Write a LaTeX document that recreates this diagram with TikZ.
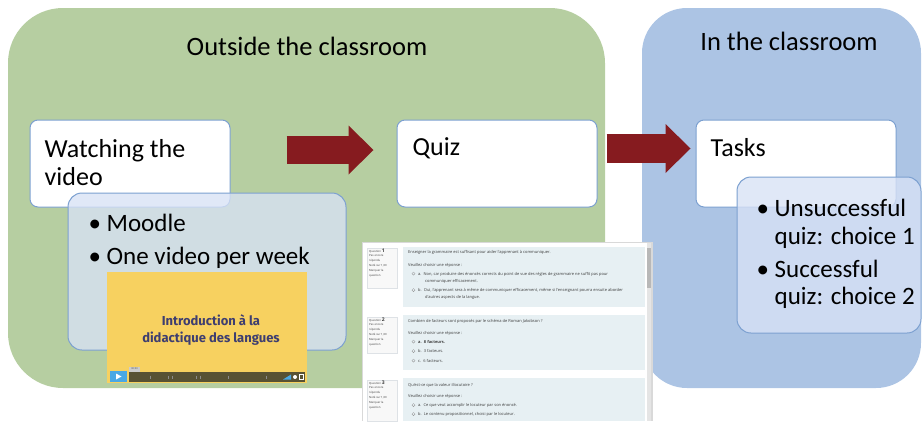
\documentclass[tikz,border=0pt]{standalone}
\usepackage{fontspec}
\setmainfont{Carlito}
\newfontfamily\thumbfont{Fira Sans}
\newfontfamily\moodlefont{Open Sans}
\usetikzlibrary{arrows.meta,positioning}

\definecolor{greenbg}{RGB}{182,206,161}
\definecolor{bluebg}{RGB}{172,196,228}
\definecolor{boxline}{RGB}{124,160,208}
\definecolor{notefill}{RGB}{216,226,246}
\definecolor{arrowred}{RGB}{134,27,31}
\definecolor{thumbyellow}{RGB}{247,209,96}
\definecolor{thumbtext}{RGB}{62,62,112}
\definecolor{playblue}{RGB}{74,168,228}
\definecolor{barfill}{RGB}{88,82,52}
\definecolor{quizbg}{RGB}{231,240,243}
\definecolor{infofill}{RGB}{248,248,248}
\definecolor{infoline}{RGB}{222,226,230}
\definecolor{moodletext}{RGB}{60,60,60}

\newcommand{\bul}{\makebox[18pt][l]{\textbullet}}

\tikzset{
  panel/.style={inner sep=0pt, outer sep=0pt},
  stepbox/.style={draw=boxline, fill=white, line width=1pt, rounded corners=8pt,
    inner sep=0pt, minimum width=200pt, minimum height=87pt},
  notebox/.style={draw=boxline, fill=notefill, fill opacity=0.78, line width=1pt,
    rounded corners=14pt, inner sep=0pt},
  titletext/.style={font=\fontsize{26.5}{29}\selectfont, anchor=base, inner sep=0pt},
  bigtext/.style={font=\fontsize{26}{28.5}\selectfont, anchor=base west, inner sep=0pt},
  bullettext/.style={font=\fontsize{25}{27.5}\selectfont, anchor=base west, inner sep=0pt},
  bigarrow/.style={draw=arrowred, line width=28.5pt,
    -{Triangle[length=25pt,width=49pt,line width=0pt]}},
  qtext/.style={font=\moodlefont\fontsize{4}{5}\selectfont, text=moodletext,
    anchor=base west, inner sep=0pt},
  infotext/.style={font=\moodlefont\fontsize{2.8}{4.4}\selectfont, text=moodletext,
    anchor=base west, inner sep=0pt},
  radio/.style={draw=black!45, line width=0.3pt}
}

\begin{document}
\begin{tikzpicture}[x=1pt,y=-1pt]
\useasboundingbox (0,0) rectangle (924,421);

% the two places
\node[panel, fill=greenbg, rounded corners=55pt, minimum width=597pt, minimum height=380pt] (outside) at (306.5,198) {};
\node[panel, fill=bluebg, rounded corners=45pt, minimum width=279pt, minimum height=380pt] (inside) at (781.5,198) {};
\node[titletext] at ([xshift=0.5pt,yshift=-47pt]outside.north) {Outside the classroom};
\node[titletext] at ([xshift=7.5pt,yshift=-42pt]inside.north) {In the classroom};

% steps
\node[stepbox] (watch) at (130,163.5) {};
\node[stepbox, right=166pt of watch] (quiz) {};
\node[stepbox, right=98pt of quiz] (tasks) {};

\draw[bigarrow, shorten <=56pt, shorten >=23pt] ([yshift=13.5pt]watch.east) -- ([yshift=13.5pt]quiz.west);
\draw[bigarrow, shorten <=9pt, shorten >=5pt] ([yshift=15pt]quiz.east) -- ([yshift=15pt]tasks.west);

\node[bigtext] at ([xshift=15pt,yshift=-37.5pt]watch.north west)
  {\begin{tabular}[t]{@{}l@{}}Watching the\\video\end{tabular}};
\node[bigtext] at ([xshift=16pt,yshift=-36pt]quiz.north west) {Quiz};
\node[bigtext] at ([xshift=15pt,yshift=-37pt]tasks.north west) {Tasks};

% notes
\node[notebox, minimum width=278pt, minimum height=157pt] (moodle) at (207,271.5) {};
\node[notebox, minimum width=184pt, minimum height=156pt] (choices) at (829,255) {};

\node[bullettext] at ([xshift=21pt,yshift=-39pt]moodle.north west)
  {\begin{tabular}[t]{@{}l@{}}\bul Moodle\\[5.5pt]\bul One video per week\end{tabular}};
\node[bullettext] at ([xshift=20pt,yshift=-40pt]choices.north west)
  {\begin{tabular}[t]{@{}l@{}}\bul Unsuccessful\\\hspace{18pt}quiz: choice 1\\[5.5pt]
   \bul Successful\\\hspace{18pt}quiz: choice 2\end{tabular}};

% video thumbnail
\node[panel, fill=thumbyellow, minimum width=200pt, minimum height=111pt] (thumb) at (207,327.5) {};
\node[anchor=base, inner sep=0pt, text=thumbtext, font=\thumbfont\bfseries\fontsize{13}{17}\selectfont]
  at (211,325) {\begin{tabular}[t]{@{}c@{}}Introduction à la\\didactique des langues\end{tabular}};
\fill[playblue] (110,371) rectangle (127,382);
\fill[white] (116,373.5) -- (116,379.5) -- (121.5,376.5) -- cycle;
\fill[barfill] (129,372) rectangle (305,382);
\fill[black!20] (129,366.5) rectangle (140,371.5);
\node[inner sep=0pt, font=\moodlefont\fontsize{2.5}{3}\selectfont, text=black!70] at (134.5,369) {00:00};
\foreach \t in {150,168,172,196,200,228,266}
  \draw[black!45, line width=0.6pt] (\t,375.5) -- (\t,378.5);
\fill[playblue] (283,379.5) -- (291,379.5) -- (291,374.5) -- cycle;
\fill[white] (295,377) circle [radius=2pt];
\draw[white, line width=0.6pt] (299.5,374.5) rectangle (303,379.5);

% quiz screenshot
\fill[black!15] (362,242) rectangle (653,421);
\fill[white] (363,243) rectangle (651,421);
\fill[black!10] (647,243) rectangle (651,421);
\fill[black!28] (647,248) rectangle (651,288);
\foreach \top/\bot/\n in {248/288/1, 317/353/2, 380/421/3} {
  \draw[infoline, fill=infofill, line width=0.4pt] (367,\top) rectangle (397,\bot);
  \node[infotext] at (369,\top+4.5) {\begin{tabular}[t]{@{}l@{}}Question {\fontsize{5}{5}\selectfont\bfseries\n}\\Pas encore\\répondu\\[0.8pt]Noté sur 1,00\\[0.8pt]Marquer la\\question\end{tabular}};
}
\fill[quizbg] (403,247) rectangle (645,307);
\fill[quizbg] (403,315) rectangle (645,370);
\fill[quizbg] (403,378) rectangle (645,421);

\node[qtext] at (408,253) {Enseigner la grammaire est suffisant pour aider l'apprenant à communiquer.};
\node[qtext] at (408,266.5) {Veuillez choisir une réponse :};
\node[qtext] at (418,275) {a.\hspace{2.2pt}Non, car produire des énoncés corrects du point de vue des règles de grammaire ne suffit pas pour};
\node[qtext] at (425,282) {communiquer efficacement.};
\node[qtext] at (418,291.5) {b.\hspace{2.2pt}Oui, l'apprenant sera à même de communiquer efficacement, même si l'enseignant pourra ensuite aborder};
\node[qtext] at (425,298.5) {d'autres aspects de la langue.};

\node[qtext] at (408,322.5) {Combien de facteurs sont proposés par le schéma de Roman Jakobson ?};
\node[qtext] at (408,334) {Veuillez choisir une réponse :};
\node[qtext] at (418,343) {\textbf{a.\hspace{2.2pt}8 facteurs.}};
\node[qtext] at (418,352.5) {b.\hspace{2.2pt}3 facteurs.};
\node[qtext] at (418,362) {c.\hspace{2.2pt}6 facteurs.};

\node[qtext] at (408,386.5) {Qu'est-ce que la valeur illocutoire ?};
\node[qtext] at (408,397.5) {Veuillez choisir une réponse :};
\node[qtext] at (418,406.5) {a.\hspace{2.2pt}Ce que veut accomplir le locuteur par son énoncé.};
\node[qtext] at (418,415.5) {b.\hspace{2.2pt}Le contenu propositionnel, choisi par le locuteur.};

\foreach \y in {273.6,290.1,341.6,351.1,360.6,405.1,414.1}
  \draw[radio] (413.5,\y) circle [radius=1.6pt];
\end{tikzpicture}
\end{document}
